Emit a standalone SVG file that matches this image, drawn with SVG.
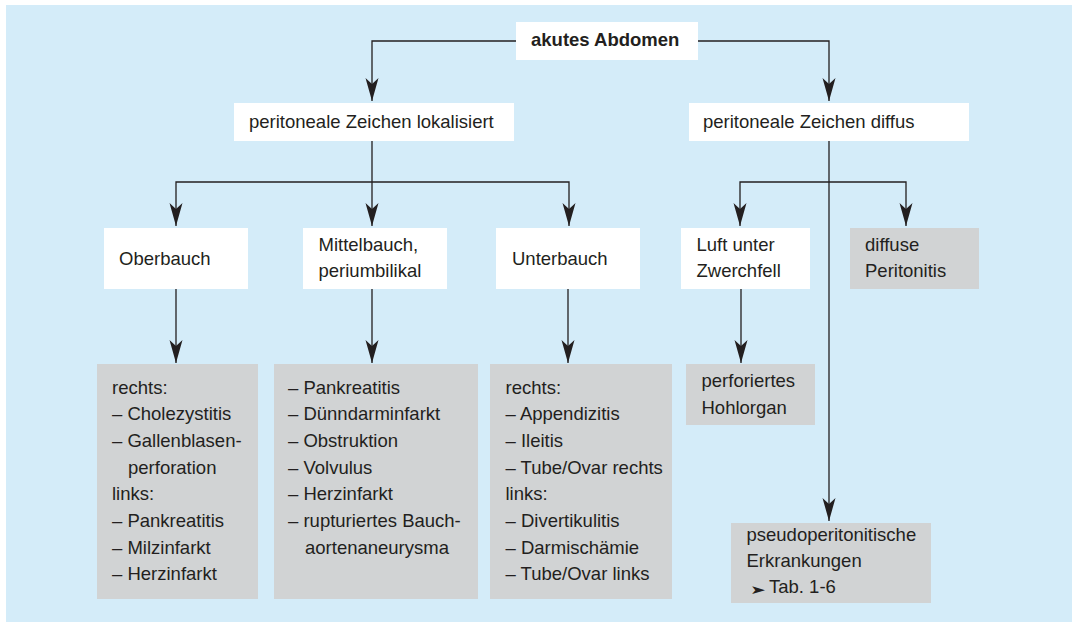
<svg xmlns="http://www.w3.org/2000/svg" width="1072" height="622" viewBox="0 0 1072 622">
  <style>
    .box { fill: #ffffff; }
    .grey { fill: #d1d3d4; }
    .t { font-family: "Liberation Sans", Arial, sans-serif; font-size: 18.5px; fill: #231f20; }
    .title { font-family: "Liberation Sans", Arial, sans-serif; font-size: 18.5px; font-weight: bold; fill: #231f20; }
    .sym { font-family: "DejaVu Sans", sans-serif; font-size: 19px; fill: #231f20; }
    .link { fill: none; stroke: #231f20; stroke-width: 1.3; marker-end: url(#arrow); }
  </style>
  <defs>
    <marker id="arrow" markerUnits="userSpaceOnUse" viewBox="-24 -7 25 14" refX="0" refY="0" markerWidth="25" markerHeight="14" orient="auto">
      <path d="M0,0 L-23,-6.5 L-17,0 L-23,6.5 Z" fill="#231f20"/>
    </marker>
  </defs>

  <!-- panel -->
  <rect x="0" y="0" width="1072" height="622" fill="#ffffff"/>
  <rect x="6" y="5" width="1066" height="617" fill="#d4ecf9"/>

  <!-- connectors -->
  <g id="connectors">
    <path class="link" d="M516,41 H372 V101"/>
    <path class="link" d="M698,41 H829 V101"/>
    <path class="link" d="M372,141 V226"/>
    <path class="link" d="M372,182 H176 V226"/>
    <path class="link" d="M372,182 H569 V226"/>
    <path class="link" d="M829,141 V521"/>
    <path class="link" d="M829,182 H740 V226"/>
    <path class="link" d="M829,182 H906 V226"/>
    <path class="link" d="M176,289 V363"/>
    <path class="link" d="M372,289 V363"/>
    <path class="link" d="M568,289 V363"/>
    <path class="link" d="M741,289 V363"/>
  </g>

  <!-- nodes -->
  <g id="akutes-abdomen">
    <rect class="box" x="516" y="22" width="182" height="38"/>
    <text class="title" x="531" y="46">akutes Abdomen</text>
  </g>
  <g id="lokalisiert">
    <rect class="box" x="234" y="103" width="280" height="38"/>
    <text class="t" x="249" y="128">peritoneale Zeichen lokalisiert</text>
  </g>
  <g id="diffus">
    <rect class="box" x="689" y="103" width="280" height="38"/>
    <text class="t" x="703" y="128">peritoneale Zeichen diffus</text>
  </g>

  <g id="oberbauch">
    <rect class="box" x="104" y="228" width="144" height="61"/>
    <text class="t" x="119" y="265">Oberbauch</text>
  </g>
  <g id="mittelbauch">
    <rect class="box" x="303" y="228" width="144" height="61"/>
    <text class="t" x="318.5" y="251">Mittelbauch,</text>
    <text class="t" x="318.5" y="277">periumbilikal</text>
  </g>
  <g id="unterbauch">
    <rect class="box" x="496" y="228" width="144" height="61"/>
    <text class="t" x="512" y="265">Unterbauch</text>
  </g>
  <g id="luft">
    <rect class="box" x="681" y="228" width="129" height="61"/>
    <text class="t" x="696.5" y="251">Luft unter</text>
    <text class="t" x="696.5" y="277">Zwerchfell</text>
  </g>
  <g id="diffuse-peritonitis">
    <rect class="grey" x="850" y="228" width="129" height="61"/>
    <text class="t" x="865" y="251">diffuse</text>
    <text class="t" x="865" y="277">Peritonitis</text>
  </g>

  <g id="oberbauch-list">
    <rect class="grey" x="97" y="364" width="161" height="235"/>
    <text class="t" x="112" y="393.5">rechts:</text>
    <text class="t" x="112" y="420.2">– Cholezystitis</text>
    <text class="t" x="112" y="446.8">– Gallenblasen-</text>
    <text class="t" x="128" y="473.5">perforation</text>
    <text class="t" x="112" y="500.2">links:</text>
    <text class="t" x="112" y="526.8">– Pankreatitis</text>
    <text class="t" x="112" y="553.5">– Milzinfarkt</text>
    <text class="t" x="112" y="580.2">– Herzinfarkt</text>
  </g>
  <g id="mittelbauch-list">
    <rect class="grey" x="274" y="364" width="204" height="235"/>
    <text class="t" x="288" y="393.5">– Pankreatitis</text>
    <text class="t" x="288" y="420.2">– Dünndarminfarkt</text>
    <text class="t" x="288" y="446.8">– Obstruktion</text>
    <text class="t" x="288" y="473.5">– Volvulus</text>
    <text class="t" x="288" y="500.2">– Herzinfarkt</text>
    <text class="t" x="288" y="526.8">– rupturiertes Bauch-</text>
    <text class="t" x="305" y="553.5">aortenaneurysma</text>
  </g>
  <g id="unterbauch-list">
    <rect class="grey" x="490" y="364" width="182" height="235"/>
    <text class="t" x="505.5" y="393.5">rechts:</text>
    <text class="t" x="505.5" y="420.2">– Appendizitis</text>
    <text class="t" x="505.5" y="446.8">– Ileitis</text>
    <text class="t" x="505.5" y="473.5">– Tube/Ovar rechts</text>
    <text class="t" x="505.5" y="500.2">links:</text>
    <text class="t" x="505.5" y="526.8">– Divertikulitis</text>
    <text class="t" x="505.5" y="553.5">– Darmischämie</text>
    <text class="t" x="505.5" y="580.2">– Tube/Ovar links</text>
  </g>
  <g id="hohlorgan">
    <rect class="grey" x="686" y="364" width="129" height="61"/>
    <text class="t" x="701.5" y="387">perforiertes</text>
    <text class="t" x="701.5" y="413.5">Hohlorgan</text>
  </g>
  <g id="pseudoperitonitisch">
    <rect class="grey" x="731" y="523" width="200" height="80"/>
    <text class="t" x="746.5" y="540.5">pseudoperitonitische</text>
    <text class="t" x="746.5" y="567">Erkrankungen</text>
    <text class="sym" transform="translate(750,593.5) scale(1,0.65)">➤</text>
    <text class="t" x="769" y="593">Tab. 1-6</text>
  </g>
</svg>
